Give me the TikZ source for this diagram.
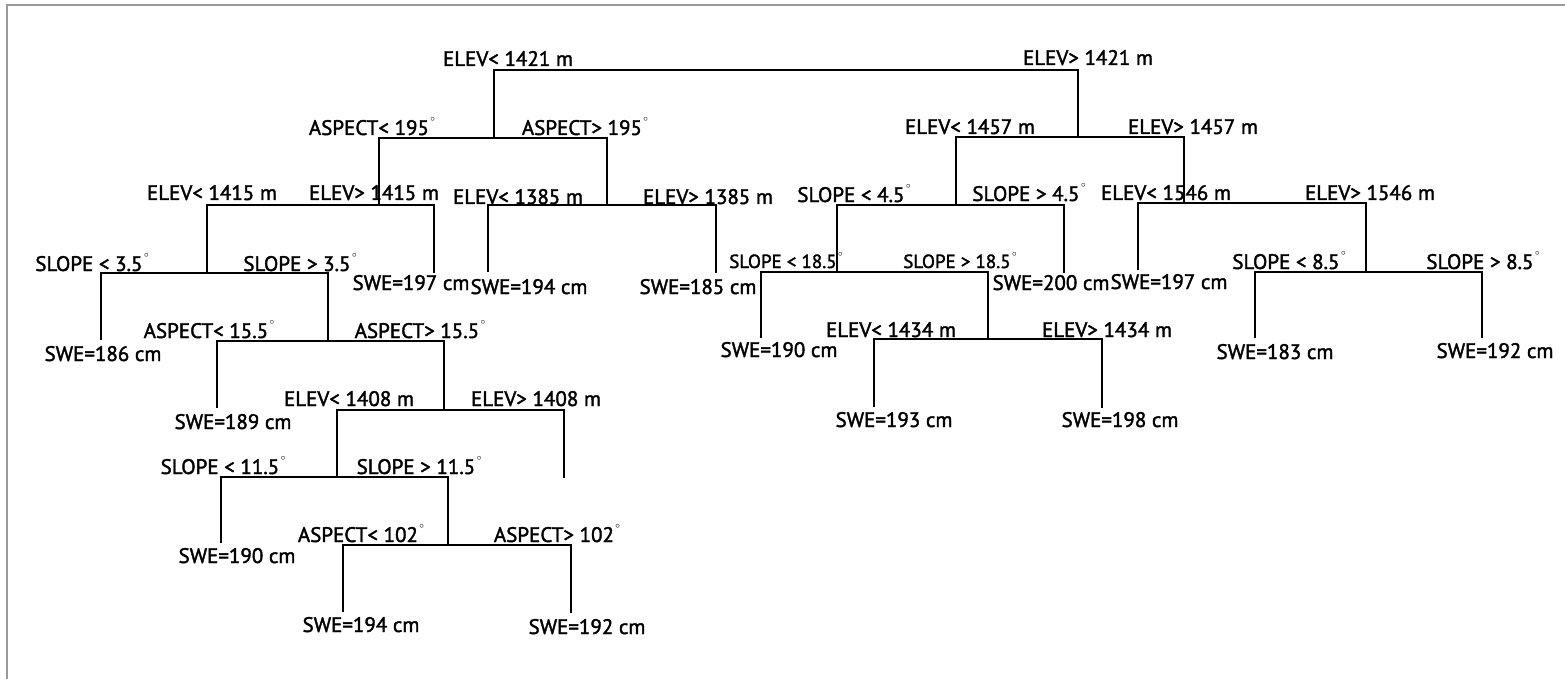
\documentclass[tikz,border=0pt]{standalone}
\usepackage{fontspec}
\setmainfont{PT Sans}
\newfontfamily\lblfont{PT Sans}[FakeBold=1.8]
\newcommand{\dg}{\kern1.5pt\raisebox{0.62em}{\fontsize{9}{9}\selectfont$\circ$}}
\begin{document}
\begin{tikzpicture}[x=1pt,y=-1pt,
  lbl/.style={font=\lblfont\fontsize{21}{21}\selectfont, inner sep=0pt, anchor=base},
  smlbl/.style={font=\lblfont\fontsize{19}{19}\selectfont, inner sep=0pt, anchor=base},
  br/.style={line width=2.4pt, line join=miter, line cap=butt},
  frame/.style={line width=1.3pt, draw=black!40}]
\useasboundingbox (0,0) rectangle (1565,679);
\draw[frame] (7,679) -- (7,5) -- (1565,5);

% split lines: attach point, left end, right end
\coordinate (R-l) at (494,70);   \coordinate (R-r) at (1078,70);
\coordinate (A195) at (494,138); \coordinate (A195-l) at (379,138); \coordinate (A195-r) at (607,138);
\coordinate (E1457) at (1078,137); \coordinate (E1457-l) at (956,137); \coordinate (E1457-r) at (1184,137);
\coordinate (E1415) at (379,205); \coordinate (E1415-l) at (207,205); \coordinate (E1415-r) at (434,205);
\coordinate (E1385) at (607,205); \coordinate (E1385-l) at (488,205); \coordinate (E1385-r) at (716,205);
\coordinate (S45) at (956,205); \coordinate (S45-l) at (837,205); \coordinate (S45-r) at (1064,205);
\coordinate (E1546) at (1184,203); \coordinate (E1546-l) at (1138,203); \coordinate (E1546-r) at (1366,203);
\coordinate (S35) at (207,273); \coordinate (S35-l) at (101,273); \coordinate (S35-r) at (328,273);
\coordinate (S185) at (837,272); \coordinate (S185-l) at (761,272); \coordinate (S185-r) at (988,272);
\coordinate (S85) at (1366,272); \coordinate (S85-l) at (1255,272); \coordinate (S85-r) at (1482,272);
\coordinate (A155) at (328,341); \coordinate (A155-l) at (217,341); \coordinate (A155-r) at (444,341);
\coordinate (E1434) at (988,339); \coordinate (E1434-l) at (874,339); \coordinate (E1434-r) at (1102,339);
\coordinate (E1408) at (444,410); \coordinate (E1408-l) at (337,410); \coordinate (E1408-r) at (564,410);
\coordinate (S115) at (337,477); \coordinate (S115-l) at (221,477); \coordinate (S115-r) at (448,477);
\coordinate (A102) at (448,545); \coordinate (A102-l) at (343,545); \coordinate (A102-r) at (571,545);
% leaf ends
\coordinate (leafA) at (434,273); \coordinate (leafB) at (488,272); \coordinate (leafC) at (716,273);
\coordinate (leafD) at (1064,273); \coordinate (leafE) at (1138,270);
\coordinate (leafF) at (101,340); \coordinate (leafG) at (761,338);
\coordinate (leafH) at (1255,338); \coordinate (leafI) at (1482,338);
\coordinate (leafJ) at (217,408); \coordinate (leafK) at (874,407); \coordinate (leafL) at (1102,408);
\coordinate (dangle) at (564,478);
\coordinate (leafM) at (221,543); \coordinate (leafN) at (343,612); \coordinate (leafO) at (571,613);

% branches
\draw[br] (A195) -- (R-l) -- (R-r) -- (E1457);
\draw[br] (E1415) -- (A195-l) -- (A195-r) -- (E1385);
\draw[br] (S45) -- (E1457-l) -- (E1457-r) -- (E1546);
\draw[br] (S35) -- (E1415-l) -- (E1415-r) -- (leafA);
\draw[br] (leafB) -- (E1385-l) -- (E1385-r) -- (leafC);
\draw[br] (S185) -- (S45-l) -- (S45-r) -- (leafD);
\draw[br] (leafE) -- (E1546-l) -- (E1546-r) -- (S85);
\draw[br] (leafF) -- (S35-l) -- (S35-r) -- (A155);
\draw[br] (leafG) -- (S185-l) -- (S185-r) -- (E1434);
\draw[br] (leafH) -- (S85-l) -- (S85-r) -- (leafI);
\draw[br] (leafJ) -- (A155-l) -- (A155-r) -- (E1408);
\draw[br] (leafK) -- (E1434-l) -- (E1434-r) -- (leafL);
\draw[br] (S115) -- (E1408-l) -- (E1408-r) -- (dangle);
\draw[br] (leafM) -- (S115-l) -- (S115-r) -- (A102);
\draw[br] (leafN) -- (A102-l) -- (A102-r) -- (leafO);

% split labels
\node[lbl] (tR1) at (508,66) {ELEV< 1421 m};
\node[lbl] (tR2) at (1088,65) {ELEV> 1421 m};
\node[lbl] (tA1) at (372,135) {ASPECT< 195\dg};
\node[lbl] (tA2) at (585,135) {ASPECT> 195\dg};
\node[lbl] (tE1) at (970,134) {ELEV< 1457 m};
\node[lbl] (tE2) at (1193,134) {ELEV> 1457 m};
\node[lbl] (tF1) at (212,200) {ELEV< 1415 m};
\node[lbl] (tF2) at (374,200) {ELEV> 1415 m};
\node[lbl] (tG1) at (518,204) {ELEV< 1385 m};
\node[lbl] (tG2) at (708,204) {ELEV> 1385 m};
\node[lbl] (tH1) at (854,202) {SLOPE < 4.5\dg};
\node[lbl] (tH2) at (1029,201) {SLOPE > 4.5\dg};
\node[lbl] (tI1) at (1166,200) {ELEV< 1546 m};
\node[lbl] (tI2) at (1370,200) {ELEV> 1546 m};
\node[lbl] (tJ1) at (92,271) {SLOPE < 3.5\dg};
\node[lbl] (tJ2) at (300,271) {SLOPE > 3.5\dg};
\node[smlbl] (tK1) at (786,268) {SLOPE < 18.5\dg};
\node[smlbl] (tK2) at (960,268) {SLOPE > 18.5\dg};
\node[lbl] (tL1) at (1289,269) {SLOPE < 8.5\dg};
\node[lbl] (tL2) at (1483,269) {SLOPE > 8.5\dg};
\node[lbl] (tM1) at (209,338) {ASPECT< 15.5\dg};
\node[lbl] (tM2) at (420,338) {ASPECT> 15.5\dg};
\node[lbl] (tN1) at (891,337) {ELEV< 1434 m};
\node[lbl] (tN2) at (1107,337) {ELEV> 1434 m};
\node[lbl] (tO1) at (349,406) {ELEV< 1408 m};
\node[lbl] (tO2) at (536,406) {ELEV> 1408 m};
\node[lbl] (tP1) at (223,474) {SLOPE < 11.5\dg};
\node[lbl] (tP2) at (419,474) {SLOPE > 11.5\dg};
\node[lbl] (tQ1) at (361,542) {ASPECT< 102\dg};
\node[lbl] (tQ2) at (557,542) {ASPECT> 102\dg};

% leaf labels
\node[lbl] (sA) at (411,290) {SWE=197 cm};
\node[lbl] (sB) at (529,294) {SWE=194 cm};
\node[lbl] (sC) at (698,294) {SWE=185 cm};
\node[lbl] (sD) at (1051,290) {SWE=200 cm};
\node[lbl] (sE) at (1169,289) {SWE=197 cm};
\node[lbl] (sF) at (103,361) {SWE=186 cm};
\node[lbl] (sG) at (779,357) {SWE=190 cm};
\node[lbl] (sH) at (1275,359) {SWE=183 cm};
\node[lbl] (sI) at (1495,358) {SWE=192 cm};
\node[lbl] (sJ) at (233,429) {SWE=189 cm};
\node[lbl] (sK) at (894,427) {SWE=193 cm};
\node[lbl] (sL) at (1120,427) {SWE=198 cm};
\node[lbl] (sM) at (237,563) {SWE=190 cm};
\node[lbl] (sN) at (361,632) {SWE=194 cm};
\node[lbl] (sO) at (587,634) {SWE=192 cm};
\end{tikzpicture}
\end{document}
